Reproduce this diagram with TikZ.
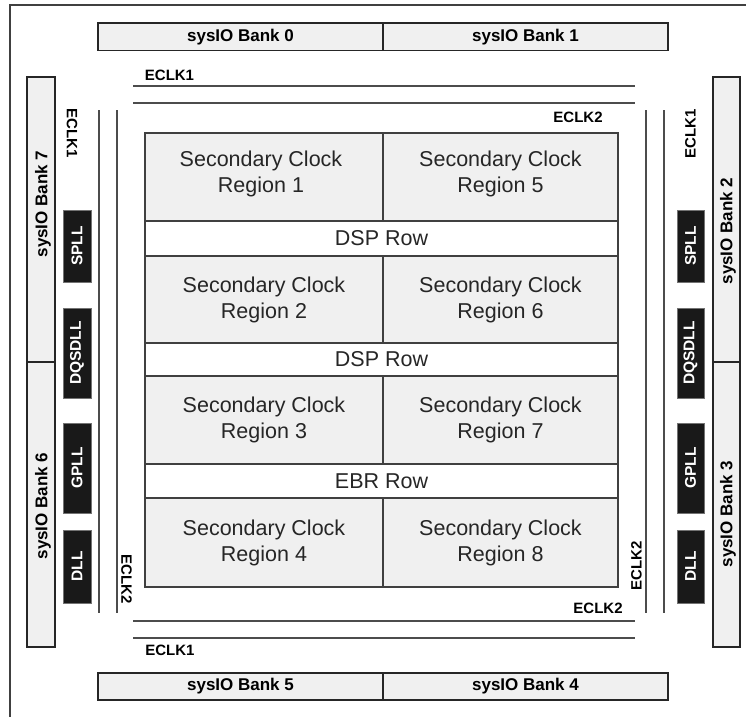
\documentclass[tikz,border=0pt]{standalone}
\usepackage{fontspec}
\setmainfont{Liberation Sans}
\begin{document}
\begin{tikzpicture}[x=1pt,y=-1pt,
  every node/.style={inner sep=0pt, outer sep=0pt},
  bankbox/.style={draw=black!85, line width=1.1pt, fill=black!6},
  banktext/.style={font=\fontsize{17}{20}\selectfont\bfseries, text=black},
  pllbox/.style={draw=black!55, line width=0.6pt, fill=black!90, text=white, font=\fontsize{15.5}{18}\selectfont\bfseries},
  regiontext/.style={align=center, text=black!85, font=\fontsize{21.5}{26}\selectfont},
  region/.style={regiontext, draw=black!75, line width=1.1pt, fill=black!6},
  rowbox/.style={draw=black!75, line width=1.1pt, fill=white, text=black!85, font=\fontsize{21.5}{26}\selectfont},
  eclk/.style={font=\fontsize{15}{18}\selectfont\bfseries, text=black},
  clkline/.style={draw=black!70, line width=2pt},
  frameline/.style={draw=black!75, line width=1.1pt}]
\useasboundingbox (0,0) rectangle (746,717);

% outer frame
\coordinate (fTL) at (10,5);
\coordinate (fTR) at (746,5);
\coordinate (fBL) at (10,717);
\draw[frameline] (fTR) -- (fTL) -- (fBL);

% top and bottom banks
\node[bankbox, banktext, minimum width=285pt, minimum height=27.5pt] (b0) at (240.5,36.75) {sysIO Bank 0};
\node[bankbox, banktext, minimum width=285pt, minimum height=27.5pt] (b1) at (525.5,36.75) {sysIO Bank 1};
\node[bankbox, banktext, minimum width=285pt, minimum height=27pt] (b5) at (240.5,686.5) {sysIO Bank 5};
\node[bankbox, banktext, minimum width=285pt, minimum height=27pt] (b4) at (525.5,686.5) {sysIO Bank 4};

% left and right banks
\node[bankbox, minimum width=28pt, minimum height=285pt] (b7) at (41,219.5) {};
\node[bankbox, minimum width=28pt, minimum height=285pt] (b6) at (41,504.5) {};
\node[bankbox, minimum width=27pt, minimum height=285pt] (b2) at (726.5,219.5) {};
\node[bankbox, minimum width=27pt, minimum height=285pt] (b3) at (726.5,504.5) {};
\node[banktext, rotate=90] (b7t) at (43,204) {sysIO Bank 7};
\node[banktext, rotate=90] (b6t) at (43,506) {sysIO Bank 6};
\node[banktext, rotate=90] (b2t) at (728,231) {sysIO Bank 2};
\node[banktext, rotate=90] (b3t) at (728,514) {sysIO Bank 3};

% PLL / DLL blocks
\node[pllbox, rotate=90, minimum width=72pt, minimum height=28pt] (lspll) at (77,246) {SPLL};
\node[pllbox, rotate=90, minimum width=90pt, minimum height=28pt] (ldqs) at (77,353) {DQSDLL};
\node[pllbox, rotate=90, minimum width=90pt, minimum height=28pt] (lgpll) at (77,468) {GPLL};
\node[pllbox, rotate=90, minimum width=73pt, minimum height=28pt] (ldll) at (77,566.5) {DLL};
\node[pllbox, rotate=90, minimum width=72pt, minimum height=27pt] (rspll) at (690.5,246) {SPLL};
\node[pllbox, rotate=90, minimum width=90pt, minimum height=27pt] (rdqs) at (690.5,353) {DQSDLL};
\node[pllbox, rotate=90, minimum width=90pt, minimum height=27pt] (rgpll) at (690.5,468) {GPLL};
\node[pllbox, rotate=90, minimum width=73pt, minimum height=27pt] (rdll) at (690.5,566.5) {DLL};

% edge clock lines
\coordinate (t1a) at (133,86);   \coordinate (t1b) at (635,86);
\coordinate (t2a) at (133,103);  \coordinate (t2b) at (635,103);
\coordinate (u1a) at (133,621);  \coordinate (u1b) at (635,621);
\coordinate (u2a) at (133,638);  \coordinate (u2b) at (635,638);
\coordinate (l1a) at (99,110);   \coordinate (l1b) at (99,613);
\coordinate (l2a) at (116.5,110);\coordinate (l2b) at (116.5,613);
\coordinate (r1a) at (646,110);  \coordinate (r1b) at (646,613);
\coordinate (r2a) at (664,110);  \coordinate (r2b) at (664,613);
\draw[clkline] (t1a) -- (t1b);
\draw[clkline] (t2a) -- (t2b);
\draw[clkline] (u1a) -- (u1b);
\draw[clkline] (u2a) -- (u2b);
\draw[clkline] (l1a) -- (l1b);
\draw[clkline] (l2a) -- (l2b);
\draw[clkline] (r1a) -- (r1b);
\draw[clkline] (r2a) -- (r2b);

% edge clock labels
\node[eclk] (e1) at (169.5,75.5) {ECLK1};
\node[eclk] (e2) at (578,117) {ECLK2};
\node[eclk] (e3) at (598,608.5) {ECLK2};
\node[eclk] (e4) at (170,650.5) {ECLK1};
\node[eclk, rotate=-90] (e5) at (72,133.5) {ECLK1};
\node[eclk, rotate=90] (e6) at (690.5,134) {ECLK1};
\node[eclk, rotate=-90] (e7) at (126.5,579) {ECLK2};
\node[eclk, rotate=90] (e8) at (636.5,566) {ECLK2};

% core grid
\node[region, minimum width=238pt, minimum height=88pt] (reg1) at (264,177) {};
\node[regiontext] (reg1t) at (261,174) {Secondary Clock\\Region 1};
\node[region, minimum width=235pt, minimum height=88pt] (reg5) at (500.5,177) {};
\node[regiontext] (reg5t) at (500.5,174) {Secondary Clock\\Region 5};
\node[rowbox, minimum width=473pt, minimum height=35pt] (dsp1) at (381.5,238.5) {DSP Row};
\node[region, minimum width=238pt, minimum height=87pt] (reg2) at (264,299.5) {Secondary Clock\\Region 2};
\node[region, minimum width=235pt, minimum height=87pt] (reg6) at (500.5,299.5) {Secondary Clock\\Region 6};
\node[rowbox, minimum width=473pt, minimum height=33pt] (dsp2) at (381.5,359.5) {DSP Row};
\node[region, minimum width=238pt, minimum height=88pt] (reg3) at (264,420) {Secondary Clock\\Region 3};
\node[region, minimum width=235pt, minimum height=88pt] (reg7) at (500.5,420) {Secondary Clock\\Region 7};
\node[rowbox, minimum width=473pt, minimum height=34pt] (ebr) at (381.5,481) {EBR Row};
\node[region, minimum width=238pt, minimum height=89pt] (reg4) at (264,542.5) {Secondary Clock\\Region 4};
\node[region, minimum width=235pt, minimum height=89pt] (reg8) at (500.5,542.5) {Secondary Clock\\Region 8};
\end{tikzpicture}
\end{document}
